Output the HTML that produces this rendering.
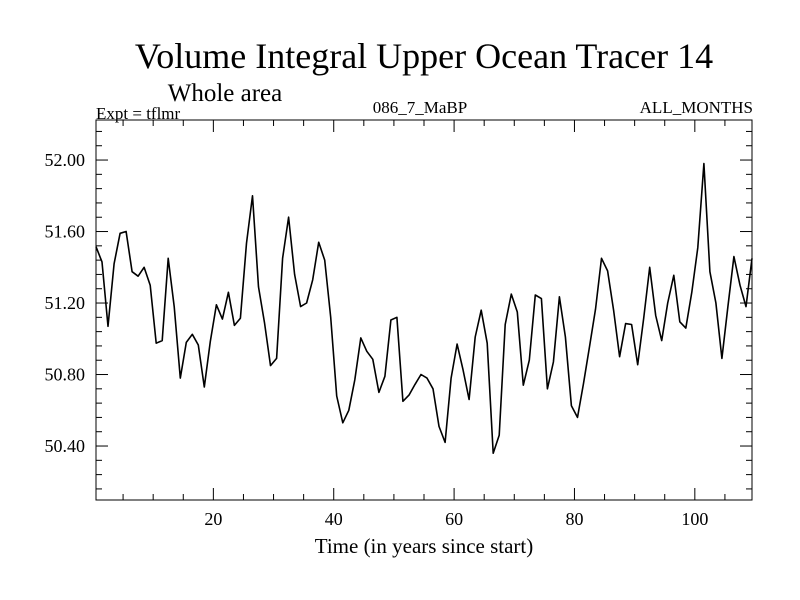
<!DOCTYPE html>
<html><head><meta charset="utf-8"><style>
html,body{margin:0;padding:0;background:#fff;}
svg{display:block;font-family:"Liberation Serif",serif;}
</style></head><body>
<svg id="chart" width="800" height="600" viewBox="0 0 800 600">
<text x="424" y="68" font-size="36" text-anchor="middle">Volume Integral Upper Ocean Tracer 14</text>
<text x="225" y="101" font-size="25" text-anchor="middle">Whole area</text>
<text x="96" y="119" font-size="17">Expt = tflmr</text>
<text x="420" y="113" font-size="17" text-anchor="middle">086_7_MaBP</text>
<text x="753" y="113" font-size="17" text-anchor="end">ALL_MONTHS</text>
<g id="axes"></g>
<text x="424" y="553" font-size="21" text-anchor="middle">Time (in years since start)</text>
</svg>
<script>
const values = [51.515,51.43,51.07,51.42,51.59,51.60,51.375,51.35,51.40,51.30,50.975,50.99,51.45,51.18,50.78,50.98,51.025,50.965,50.73,50.985,51.19,51.11,51.26,51.075,51.115,51.535,51.80,51.29,51.09,50.85,50.89,51.45,51.68,51.36,51.18,51.20,51.33,51.54,
51.44,51.12,50.68,50.53,50.60,50.77,51.005,50.93,50.885,50.70,50.79,51.105,51.12,50.65,50.685,50.745,50.80,50.78,50.72,50.51,50.42,50.78,50.97,50.825,50.66,51.01,51.16,50.975,50.36,50.46,51.08,51.25,51.15,50.74,50.88,
51.245,51.225,50.72,50.87,51.235,51.01,50.625,50.56,50.75,50.955,51.165,51.45,51.38,51.16,50.90,51.085,51.08,50.855,51.115,51.40,51.13,50.99,51.20,51.355,51.095,51.06,51.26,51.51,51.98,51.375,51.20,50.89,51.18,51.46,51.30,51.18,51.45];
const xTicks = [20,40,60,80,100];
const yTicks = [50.40,50.80,51.20,51.60,52.00];
const xDomain = [0.5,109.5];
const yDomain = [50.098,52.224];
const L=96,R=752,T=120,B=500;
function sx(v){return L+(v-xDomain[0])/(xDomain[1]-xDomain[0])*(R-L);}
function sy(v){return B-(v-yDomain[0])/(yDomain[1]-yDomain[0])*(B-T);}
const NS="http://www.w3.org/2000/svg";
const g=document.getElementById('axes');
function mk(tag,attrs,parent){const e=document.createElementNS(NS,tag);for(const k in attrs)e.setAttribute(k,attrs[k]);(parent||g).appendChild(e);return e;}
const frame=mk('rect',{x:L,y:T,width:R-L,height:B-T,fill:'none',stroke:'#000','stroke-width':1});


for(let t=5;t<=105;t+=5){
  const major=t%20===0;const len=major?12:6;const x=sx(t);
  const a=mk('line',{x1:x,x2:x,y1:B,y2:B-len,stroke:'#000'});
  
  
  const b=mk('line',{x1:x,x2:x,y1:T,y2:T+len,stroke:'#000'});
  
  
}
xTicks.forEach(t=>{
  const e=mk('text',{x:sx(t),y:B+25,'font-size':18,'text-anchor':'middle'});
  e.textContent=t;
  
  
});
for(let k=0;k<=30;k++){
  const v=50.16+k*0.08;if(v>yDomain[1])break;
  const major=Math.abs(((v-50.4)/0.4)-Math.round((v-50.4)/0.4))<1e-6;
  const len=major?12:6;const y=sy(v);
  const a=mk('line',{x1:L,x2:L+len,y1:y,y2:y,stroke:'#000'});
  
  
  const b=mk('line',{x1:R,x2:R-len,y1:y,y2:y,stroke:'#000'});
  
  
}
yTicks.forEach(t=>{
  const e=mk('text',{x:L-11,y:sy(t)+6,'font-size':18,'text-anchor':'end'});
  e.textContent=t.toFixed(2);
  
  
});
const pts=values.map((v,i)=>sx(i+0.5).toFixed(1)+','+sy(v).toFixed(1)).join(' ');
const line=mk('polyline',{points:pts,fill:'none',stroke:'#000','stroke-width':1.6,'stroke-linejoin':'round'});


</script>
</body></html>
